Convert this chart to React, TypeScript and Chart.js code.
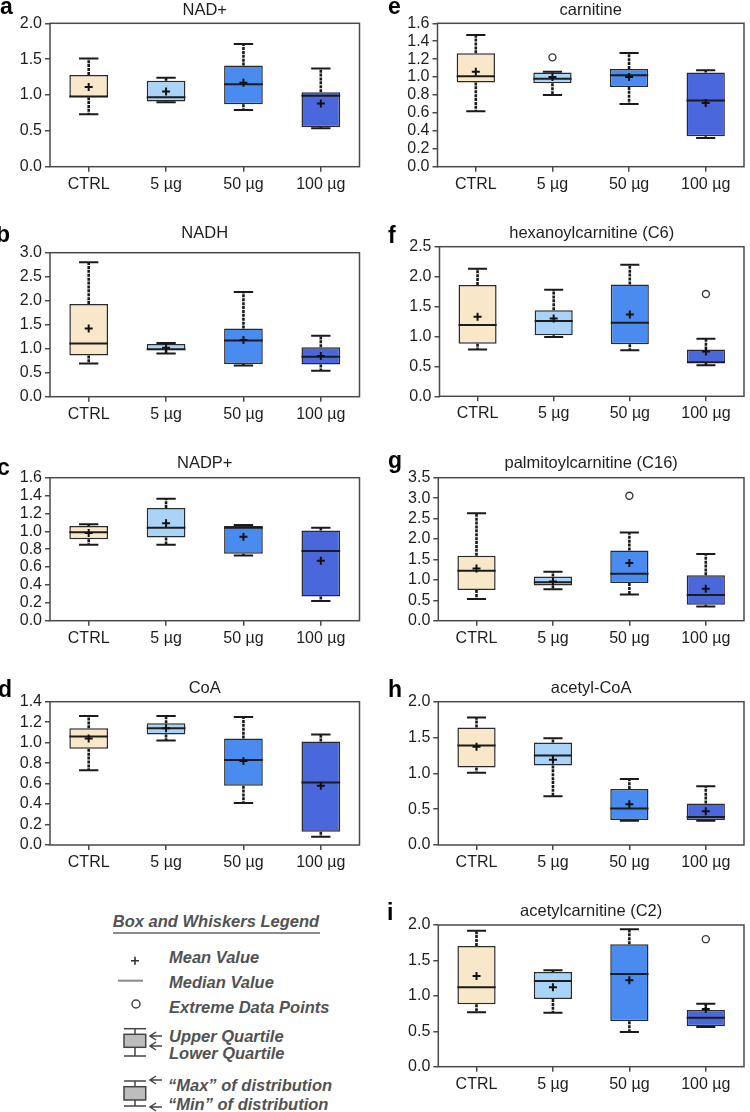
import React, { useEffect, useRef } from 'react';
import { Chart, registerables } from 'chart.js';

Chart.register(...registerables);

const FONT = "'Liberation Sans', Arial, Helvetica, sans-serif";

const CATEGORIES = ['CTRL', '5 µg', '50 µg', '100 µg'];
const GROUP_COLORS = ['#F8E7C9', '#A9D3F7', '#4A8BF0', '#4A67DB'];

// a — NAD+
const nadPlusMax = [1.51, 1.24, 1.71, 1.37];
const nadPlusQ3 = [1.28, 1.2, 1.41, 1.04];
const nadPlusMedian = [0.98, 0.97, 1.15, 0.99];
const nadPlusQ1 = [0.97, 0.91, 0.87, 0.55];
const nadPlusMin = [0.73, 0.9, 0.79, 0.535];
const nadPlusMean = [1.11, 1.05, 1.17, 0.88];
const nadPlusOutliers = [null, null, null, null];

// b — NADH
const nadhMax = [2.8, 1.12, 2.18, 1.27];
const nadhQ3 = [1.93, 1.1, 1.42, 1.03];
const nadhMedian = [1.11, 0.99, 1.17, 0.83];
const nadhQ1 = [0.86, 0.97, 0.68, 0.67];
const nadhMin = [0.69, 0.9, 0.65, 0.54];
const nadhMean = [1.42, 1.02, 1.18, 0.85];
const nadhOutliers = [null, null, null, null];

// c — NADP+
const nadpMax = [1.08, 1.365, 1.07, 1.04];
const nadpQ3 = [1.06, 1.26, 1.06, 1.01];
const nadpMedian = [0.99, 1.04, 1.04, 0.78];
const nadpQ1 = [0.91, 0.93, 0.75, 0.27];
const nadpMin = [0.85, 0.85, 0.73, 0.22];
const nadpMean = [0.98, 1.09, 0.94, 0.67];
const nadpOutliers = [null, null, null, null];

// d — CoA
const coaMax = [1.26, 1.26, 1.25, 1.08];
const coaQ3 = [1.14, 1.19, 1.04, 1.01];
const coaMedian = [1.06, 1.14, 0.83, 0.61];
const coaQ1 = [0.94, 1.08, 0.58, 0.13];
const coaMin = [0.73, 1.02, 0.41, 0.08];
const coaMean = [1.04, 1.14, 0.82, 0.58];
const coaOutliers = [null, null, null, null];

// e — carnitine
const carnitineMax = [1.47, 1.06, 1.27, 1.075];
const carnitineQ3 = [1.265, 1.05, 1.09, 1.05];
const carnitineMedian = [1.01, 0.98, 1.02, 0.74];
const carnitineQ1 = [0.94, 0.93, 0.89, 0.34];
const carnitineMin = [0.62, 0.8, 0.7, 0.32];
const carnitineMean = [1.06, 1.0, 1.0, 0.71];
const carnitineOutliers = [null, 1.22, null, null];

// f — hexanoylcarnitine (C6)
const c6Max = [2.13, 1.78, 2.2, 0.96];
const c6Q3 = [1.86, 1.44, 1.87, 0.78];
const c6Median = [1.19, 1.26, 1.23, 0.57];
const c6Q1 = [0.88, 1.02, 0.87, 0.555];
const c6Min = [0.78, 0.99, 0.77, 0.52];
const c6Mean = [1.33, 1.3, 1.365, 0.75];
const c6Outliers = [null, null, null, 1.71];

// g — palmitoylcarnitine (C16)
const c16Max = [2.63, 1.2, 2.16, 1.63];
const c16Q3 = [1.59, 1.08, 1.72, 1.11];
const c16Median = [1.22, 0.94, 1.15, 0.63];
const c16Q1 = [0.75, 0.86, 0.92, 0.39];
const c16Min = [0.53, 0.77, 0.64, 0.35];
const c16Mean = [1.28, 0.96, 1.41, 0.78];
const c16Outliers = [null, null, 3.06, null];

// h — acetyl-CoA
const acCoaMax = [1.78, 1.49, 0.92, 0.82];
const acCoaQ3 = [1.64, 1.43, 0.78, 0.58];
const acCoaMedian = [1.39, 1.25, 0.51, 0.39];
const acCoaQ1 = [1.08, 1.11, 0.35, 0.35];
const acCoaMin = [1.01, 0.68, 0.34, 0.34];
const acCoaMean = [1.37, 1.19, 0.57, 0.47];
const acCoaOutliers = [null, null, null, null];

// i — acetylcarnitine (C2)
const c2Max = [1.92, 1.36, 1.94, 0.89];
const c2Q3 = [1.705, 1.335, 1.73, 0.8];
const c2Median = [1.12, 1.21, 1.31, 0.69];
const c2Q1 = [0.88, 0.955, 0.64, 0.57];
const c2Min = [0.77, 0.76, 0.49, 0.56];
const c2Mean = [1.28, 1.12, 1.22, 0.815];
const c2Outliers = [null, null, null, 1.8];

type Panel = {
  letter: string; title: string; yMax: number; step: number;
  max: number[]; q3: number[]; median: number[]; q1: number[]; min: number[]; mean: number[]; outliers: (number | null)[];
  col: number; plotLeft: number; plotRight: number; plotTop: number; plotBottom: number;
  titleY: number; letterX: number; letterY: number;
};

const PANELS: Panel[] = [
  { letter: 'a', title: 'NAD+', yMax: 2.0, step: 0.5, max: nadPlusMax, q3: nadPlusQ3, median: nadPlusMedian, q1: nadPlusQ1, min: nadPlusMin, mean: nadPlusMean, outliers: nadPlusOutliers,
    col: 0, plotLeft: 50, plotRight: 359.5, plotTop: 23.3, plotBottom: 166.7, titleY: 10, letterX: 0, letterY: 13.5 },
  { letter: 'b', title: 'NADH', yMax: 3.0, step: 0.5, max: nadhMax, q3: nadhQ3, median: nadhMedian, q1: nadhQ1, min: nadhMin, mean: nadhMean, outliers: nadhOutliers,
    col: 0, plotLeft: 50, plotRight: 359.5, plotTop: 252.7, plotBottom: 396.7, titleY: 233.3, letterX: -4, letterY: 241.7 },
  { letter: 'c', title: 'NADP+', yMax: 1.6, step: 0.2, max: nadpMax, q3: nadpQ3, median: nadpMedian, q1: nadpQ1, min: nadpMin, mean: nadpMean, outliers: nadpOutliers,
    col: 0, plotLeft: 50, plotRight: 359.5, plotTop: 477.7, plotBottom: 620.7, titleY: 463.3, letterX: -3, letterY: 475 },
  { letter: 'd', title: 'CoA', yMax: 1.4, step: 0.2, max: coaMax, q3: coaQ3, median: coaMedian, q1: coaQ1, min: coaMin, mean: coaMean, outliers: coaOutliers,
    col: 0, plotLeft: 50, plotRight: 359.5, plotTop: 701.7, plotBottom: 845, titleY: 688.3, letterX: -2, letterY: 697 },
  { letter: 'e', title: 'carnitine', yMax: 1.6, step: 0.2, max: carnitineMax, q3: carnitineQ3, median: carnitineMedian, q1: carnitineQ1, min: carnitineMin, mean: carnitineMean, outliers: carnitineOutliers,
    col: 1, plotLeft: 437.5, plotRight: 745.5, plotTop: 23.3, plotBottom: 166.7, titleY: 10, letterX: 388, letterY: 13.5 },
  { letter: 'f', title: 'hexanoylcarnitine (C6)', yMax: 2.5, step: 0.5, max: c6Max, q3: c6Q3, median: c6Median, q1: c6Q1, min: c6Min, mean: c6Mean, outliers: c6Outliers,
    col: 1, plotLeft: 439.5, plotRight: 746.5, plotTop: 246.7, plotBottom: 396.3, titleY: 233.3, letterX: 388, letterY: 243.3 },
  { letter: 'g', title: 'palmitoylcarnitine (C16)', yMax: 3.5, step: 0.5, max: c16Max, q3: c16Q3, median: c16Median, q1: c16Q1, min: c16Min, mean: c16Mean, outliers: c16Outliers,
    col: 1, plotLeft: 438.3, plotRight: 746.5, plotTop: 477.7, plotBottom: 620.7, titleY: 463.3, letterX: 388, letterY: 468 },
  { letter: 'h', title: 'acetyl-CoA', yMax: 2.0, step: 0.5, max: acCoaMax, q3: acCoaQ3, median: acCoaMedian, q1: acCoaQ1, min: acCoaMin, mean: acCoaMean, outliers: acCoaOutliers,
    col: 1, plotLeft: 438.3, plotRight: 746.5, plotTop: 701.7, plotBottom: 845, titleY: 688.3, letterX: 388, letterY: 696.7 },
  { letter: 'i', title: 'acetylcarnitine (C2)', yMax: 2.0, step: 0.5, max: c2Max, q3: c2Q3, median: c2Median, q1: c2Q1, min: c2Min, mean: c2Mean, outliers: c2Outliers,
    col: 1, plotLeft: 438.3, plotRight: 746, plotTop: 925, plotBottom: 1066.7, titleY: 911.7, letterX: 387, letterY: 920 },
];

function BoxPanel({ p }: { p: Panel }) {
  const ref = useRef<HTMLCanvasElement>(null);
  const canvasLeft = p.col === 0 ? 0 : 375;
  const canvasWidth = p.col === 0 ? 370 : 375;
  const canvasTop = Math.max(0, Math.floor(p.plotTop - 26));
  const canvasHeight = Math.ceil(p.plotBottom - canvasTop + 34);

  useEffect(() => {
    const canvas = ref.current;
    if (!canvas) return;
    const padTop = p.plotTop - canvasTop;
    const padRight = canvasLeft + canvasWidth - p.plotRight;
    const axisW = p.plotLeft - canvasLeft;
    const xAxisH = canvasTop + canvasHeight - p.plotBottom;

    const boxPlugin = {
      id: 'boxExtras',
      beforeDatasetsDraw(chart: any) {
        const { ctx, chartArea } = chart;
        const xs = chart.scales.x;
        const ys = chart.scales.y;
        const meta = chart.getDatasetMeta(0);
        ctx.save();
        // frame
        ctx.strokeStyle = '#4a4a4a';
        ctx.lineWidth = 1.5;
        ctx.strokeRect(chartArea.left, chartArea.top, chartArea.right - chartArea.left, chartArea.bottom - chartArea.top);
        // whiskers
        for (let i = 0; i < CATEGORIES.length; i++) {
          const x = xs.getPixelForValue(i);
          const bw = meta.data[i] ? meta.data[i].width : 38;
          const capHalf = bw / 4;
          const yMaxP = ys.getPixelForValue(p.max[i]);
          const yQ3 = ys.getPixelForValue(p.q3[i]);
          const yQ1 = ys.getPixelForValue(p.q1[i]);
          const yMinP = ys.getPixelForValue(p.min[i]);
          ctx.strokeStyle = '#1a1a1a';
          ctx.lineWidth = 2.6;
          ctx.setLineDash([3, 0.9]);
          ctx.beginPath();
          ctx.moveTo(x, yQ3); ctx.lineTo(x, yMaxP);
          ctx.moveTo(x, yQ1); ctx.lineTo(x, yMinP);
          ctx.stroke();
          ctx.setLineDash([]);
          ctx.lineWidth = 2;
          ctx.beginPath();
          ctx.moveTo(x - capHalf, yMaxP); ctx.lineTo(x + capHalf, yMaxP);
          ctx.moveTo(x - capHalf, yMinP); ctx.lineTo(x + capHalf, yMinP);
          ctx.stroke();
        }
        ctx.restore();
      },
      afterDatasetDraw(chart: any, args: any) {
        if (args.index !== 0) return;
        const { ctx } = chart;
        const xs = chart.scales.x;
        const ys = chart.scales.y;
        const meta = chart.getDatasetMeta(0);
        ctx.save();
        ctx.strokeStyle = '#1c1c1c';
        ctx.lineWidth = 2;
        for (let i = 0; i < CATEGORIES.length; i++) {
          const x = xs.getPixelForValue(i);
          const bw = meta.data[i] ? meta.data[i].width : 38;
          const y = ys.getPixelForValue(p.median[i]);
          ctx.beginPath();
          ctx.moveTo(x - bw / 2, y); ctx.lineTo(x + bw / 2, y);
          ctx.stroke();
        }
        ctx.restore();
      },
      afterDraw(chart: any) {
        const { ctx, chartArea } = chart;
        ctx.save();
        ctx.fillStyle = '#1e1e1e';
        ctx.font = `16.5px ${FONT}`;
        ctx.textAlign = 'center';
        ctx.textBaseline = 'middle';
        ctx.fillText(p.title, (chartArea.left + chartArea.right) / 2, p.titleY - canvasTop);
        ctx.fillStyle = '#000';
        ctx.font = `bold 23px ${FONT}`;
        ctx.textAlign = 'left';
        ctx.textBaseline = 'alphabetic';
        ctx.fillText(p.letter, p.letterX - canvasLeft, p.letterY - canvasTop);
        ctx.restore();
      },
    };

    const chart = new Chart(canvas, {
      type: 'bar',
      data: {
        labels: CATEGORIES,
        datasets: [
          {
            type: 'bar',
            data: p.q1.map((v, i) => [v, p.q3[i]]) as any,
            backgroundColor: GROUP_COLORS,
            borderColor: '#2a2a2a',
            borderWidth: 1.5,
            borderSkipped: false,
            barPercentage: 0.5,
            categoryPercentage: 1.0,
            order: 3,
          } as any,
          {
            type: 'line',
            data: p.outliers as any,
            showLine: false,
            pointStyle: 'circle',
            pointRadius: 3.5,
            pointBackgroundColor: '#ffffff',
            pointBorderColor: '#3a3a3a',
            pointBorderWidth: 1.4,
            order: 2,
          } as any,
          {
            type: 'line',
            data: p.mean,
            showLine: false,
            pointStyle: 'cross',
            pointRadius: 4,
            pointBorderColor: '#111111',
            pointBorderWidth: 2,
            order: 1,
          } as any,
        ],
      },
      options: {
        responsive: false,
        animation: false,
        devicePixelRatio: 1,
        events: [],
        layout: { padding: { top: padTop, right: padRight, left: 0, bottom: 0 } },
        plugins: { legend: { display: false }, tooltip: { enabled: false }, title: { display: false } },
        scales: {
          x: {
            type: 'category',
            offset: true,
            grid: { display: true, drawOnChartArea: false, drawTicks: true, tickLength: 5, color: '#4a4a4a', lineWidth: 1.5, offset: false },
            border: { display: false },
            ticks: { font: { size: 16, family: FONT }, color: '#1e1e1e', padding: 3, maxRotation: 0, autoSkip: false },
            afterFit: (s: any) => { s.height = xAxisH; },
          },
          y: {
            min: 0,
            max: p.yMax,
            grid: { display: true, drawOnChartArea: false, drawTicks: true, tickLength: 5, color: '#4a4a4a', lineWidth: 1.5 },
            border: { display: false },
            ticks: {
              stepSize: p.step,
              autoSkip: false,
              font: { size: 16, family: FONT },
              color: '#1e1e1e',
              padding: 3,
              callback: (v: any) => Number(v).toFixed(1),
            },
            afterFit: (s: any) => { s.width = axisW; },
          },
        },
      } as any,
      plugins: [boxPlugin],
    });
    return () => chart.destroy();
  }, []);

  return (
    <canvas
      ref={ref}
      width={canvasWidth}
      height={canvasHeight}
      style={{ position: 'absolute', left: canvasLeft, top: canvasTop, width: canvasWidth, height: canvasHeight }}
    />
  );
}

function LegendBox() {
  const txt = { fontFamily: FONT, fontWeight: 'bold', fontStyle: 'italic', fontSize: 16.5, fill: '#525252' } as any;
  const arrow = (x: number, y: number) => `M${x + 12} ${y} L${x} ${y} M${x + 6} ${y - 4} L${x} ${y} L${x + 6} ${y + 4}`;
  return (
    <svg width={370} height={232} style={{ position: 'absolute', left: 0, top: 880 }} viewBox="0 0 370 232">
      <text x={216} y={47} textAnchor="middle" style={txt}>Box and Whiskers Legend</text>
      <line x1={113} y1={53} x2={320} y2={53} stroke="#666" strokeWidth={1.6} />
      <path d="M131 80.7 L139 80.7 M135 76.7 L135 84.7" stroke="#333" strokeWidth={1.6} fill="none" />
      <text x={169} y={82.7} style={txt}>Mean Value</text>
      <line x1={118} y1={100.7} x2={143} y2={100.7} stroke="#888" strokeWidth={2} />
      <text x={169} y={108.3} style={txt}>Median Value</text>
      <circle cx={136} cy={124} r={4} stroke="#444" strokeWidth={1.5} fill="none" />
      <text x={169} y={133.3} style={txt}>Extreme Data Points</text>
      <g stroke="#444" strokeWidth={1.5} fill="none">
        <line x1={124} y1={148.7} x2={146} y2={148.7} />
        <line x1={135} y1={148.7} x2={135} y2={176} />
        <line x1={124} y1={176} x2={146} y2={176} />
        <rect x={124} y={154.3} width={21.7} height={13} fill="#bdbdbd" />
        <path d={arrow(150, 156)} />
        <path d={arrow(150, 166)} />
        <line x1={124} y1={201} x2={146} y2={201} />
        <line x1={135} y1={201} x2={135} y2={226} />
        <line x1={124} y1={226} x2={146} y2={226} />
        <rect x={124} y={206.7} width={21.7} height={13.3} fill="#bdbdbd" />
        <path d={arrow(150, 200)} />
        <path d={arrow(150, 227)} />
      </g>
      <text x={169} y={162.3} style={txt}>Upper Quartile</text>
      <text x={169} y={179} style={txt}>Lower Quartile</text>
      <text x={168} y={210.7} style={txt}>“Max” of distribution</text>
      <text x={168} y={230} style={txt}>“Min” of distribution</text>
    </svg>
  );
}

export default function App() {
  useEffect(() => {
    document.body.style.margin = '0';
  }, []);
  return (
    <div style={{ position: 'absolute', left: 0, top: 0, width: 750, height: 1112, background: '#ffffff', overflow: 'hidden' }}>
      {PANELS.map((p) => (
        <BoxPanel key={p.letter} p={p} />
      ))}
      <LegendBox />
    </div>
  );
}
